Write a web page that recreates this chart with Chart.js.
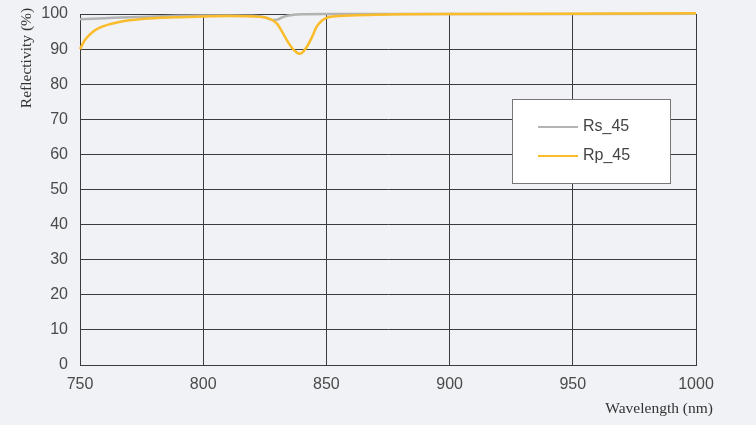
<!DOCTYPE html>
<html>
<head>
<meta charset="utf-8">
<script src="https://cdn.jsdelivr.net/npm/chart.js@4/dist/chart.umd.min.js"></script>
<style>
  html, body { margin: 0; padding: 0; background: #f0f2f5; }
  #c { display: block; }
</style>
</head>
<body>
<canvas id="c" width="756" height="425"></canvas>
<script>
// ---- data ----
const rsWavelengths = [750, 760, 770, 780, 790, 800, 810, 820, 825, 828, 830, 832, 834, 836, 840, 850, 870, 900, 950, 1000];
const rsValues      = [98.5, 98.8, 99.1, 99.3, 99.5, 99.6, 99.6, 99.5, 99.1, 98.3, 98.4, 99.0, 99.5, 99.7, 99.9, 100.0, 100.0, 100.0, 100.0, 100.1];

const rpWavelengths = [750, 752, 755, 758, 762, 765, 770, 775, 782, 790, 800, 810, 820, 825, 828, 830, 832, 834, 836, 838, 839, 840, 842, 844, 846, 848, 850, 855, 860, 870, 880, 900, 950, 1000];
const rpValues      = [90.0, 92.6, 94.8, 96.1, 97.1, 97.6, 98.2, 98.6, 98.9, 99.1, 99.3, 99.4, 99.3, 99.0, 98.3, 97.2, 95.0, 92.5, 90.4, 89.0, 88.7, 88.9, 90.6, 93.2, 96.3, 98.0, 98.9, 99.4, 99.6, 99.8, 99.9, 100.0, 100.1, 100.2];

const seriesNames  = ['Rs_45', 'Rp_45'];
const xTicks = [750, 800, 850, 900, 950, 1000];
const yTicks = [0, 10, 20, 30, 40, 50, 60, 70, 80, 90, 100];
const xTitle = 'Wavelength (nm)';
const yTitle = 'Reflectivity (%)';

const toPts = (xs, ys) => xs.map((x, i) => ({ x: x, y: ys[i] }));

const bgPlugin = {
  id: 'bg',
  beforeDraw(chart) {
    const ctx = chart.ctx;
    ctx.save();
    ctx.fillStyle = '#f0f2f5';
    ctx.fillRect(0, 0, chart.width, chart.height);
    ctx.restore();
  }
};

const decoPlugin = {
  id: 'deco',
  afterDraw(chart) {
    const ctx = chart.ctx;
    ctx.save();
    // axis titles
    ctx.fillStyle = '#333';
    ctx.font = '15.5px "Liberation Serif", serif';
    ctx.textAlign = 'right';
    ctx.textBaseline = 'middle';
    ctx.fillText(xTitle, 713, 409);
    ctx.translate(27, 58);
    ctx.rotate(-Math.PI / 2);
    ctx.textAlign = 'center';
    ctx.fillText(yTitle, 0, 0);
    ctx.restore();

    // legend box
    ctx.save();
    ctx.fillStyle = '#ffffff';
    ctx.fillRect(512, 99, 158, 84);
    ctx.strokeStyle = '#777';
    ctx.lineWidth = 1;
    ctx.strokeRect(512.5, 99.5, 158, 84);
    const ys = [127, 156];
    chart.data.datasets.forEach((ds, i) => {
      ctx.strokeStyle = ds.borderColor;
      ctx.lineWidth = 2;
      ctx.beginPath();
      ctx.moveTo(538, ys[i]);
      ctx.lineTo(578, ys[i]);
      ctx.stroke();
      ctx.fillStyle = '#444';
      ctx.font = '16px "Liberation Sans", Arial, sans-serif';
      ctx.textAlign = 'left';
      ctx.textBaseline = 'middle';
      ctx.fillText(ds.label, 583, ys[i]);
    });
    ctx.restore();
  }
};

new Chart(document.getElementById('c'), {
  type: 'line',
  data: {
    datasets: [
      {
        label: seriesNames[0],
        data: toPts(rsWavelengths, rsValues),
        borderColor: '#b3b3b3',
        borderWidth: 2.5,
        pointRadius: 0,
        cubicInterpolationMode: 'monotone',
        clip: 3,
        order: 2,
        fill: false
      },
      {
        label: seriesNames[1],
        data: toPts(rpWavelengths, rpValues),
        borderColor: '#fbbc2c',
        borderWidth: 2.5,
        pointRadius: 0,
        cubicInterpolationMode: 'monotone',
        clip: 3,
        order: 1,
        fill: false
      }
    ]
  },
  options: {
    responsive: false,
    animation: false,
    layout: { padding: { left: 0, right: 60, top: 14, bottom: 0 } },
    plugins: {
      legend: { display: false },
      tooltip: { enabled: false }
    },
    scales: {
      x: {
        type: 'linear',
        min: 750, max: 1000,
        afterBuildTicks(scale) { scale.ticks = xTicks.map(v => ({ value: v })); },
        afterFit(scale) { scale.height = 60; scale.paddingLeft = 0; scale.paddingRight = 0; },
        grid: { color: '#3c3c3c', lineWidth: 1, drawTicks: false },
        border: { color: '#3c3c3c', width: 1 },
        ticks: {
          padding: 10,
          maxRotation: 0,
          color: '#4a4a4a',
          font: { family: '"Liberation Sans", Arial, sans-serif', size: 16 },
          callback: (v) => String(v)
        }
      },
      y: {
        min: 0, max: 100,
        afterBuildTicks(scale) { scale.ticks = yTicks.map(v => ({ value: v })); },
        afterFit(scale) { scale.width = 80; scale.paddingTop = 0; scale.paddingBottom = 0; },
        grid: { color: '#3c3c3c', lineWidth: 1, drawTicks: false },
        border: { color: '#3c3c3c', width: 1 },
        ticks: {
          padding: 12,
          color: '#4a4a4a',
          font: { family: '"Liberation Sans", Arial, sans-serif', size: 16 },
          callback: (v) => String(v)
        }
      }
    }
  },
  plugins: [bgPlugin, decoPlugin]
});
</script>
</body>
</html>
